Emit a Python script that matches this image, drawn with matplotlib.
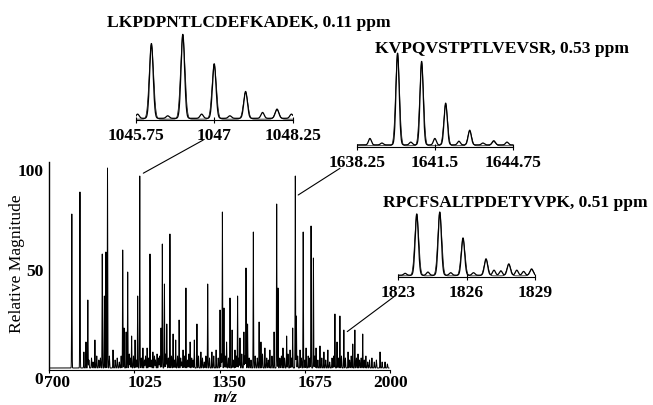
import numpy as np
import matplotlib.pyplot as plt
from matplotlib.transforms import ScaledTranslation

plt.rcParams['font.family'] = ['Liberation Serif', 'DejaVu Serif']
plt.rcParams['font.weight'] = 'bold'
plt.rcParams['font.size'] = 12.6

# full scan: main peaks (m/z) and relative magnitude
scan_mz = [787, 818, 833, 841, 848, 875, 903, 911, 917, 923,
           944, 981, 986, 994, 1000, 1015, 1028, 1038, 1046, 1058,
           1074, 1085, 1096, 1112, 1127, 1132, 1140, 1149, 1161, 1173,
           1183, 1196, 1211, 1222, 1238, 1254, 1264, 1279, 1305, 1321,
           1337, 1352, 1361, 1367, 1377, 1390, 1398, 1409, 1419, 1428,
           1443, 1451, 1457, 1479, 1501, 1508, 1523, 1542, 1558, 1568,
           1573, 1592, 1606, 1619, 1629, 1639, 1643, 1657, 1669, 1680,
           1699, 1708, 1718, 1733, 1748, 1763, 1790, 1798, 1809, 1824,
           1840, 1858, 1866, 1878, 1896, 1908, 1931, 1962, 1981]
scan_int = [77, 88, 8, 13, 34, 14, 57, 36, 58, 100,
            9, 59, 20, 18, 48, 16, 14, 36, 96, 10,
            10, 57, 8, 7, 20, 62, 42, 22, 67, 17,
            14, 24, 9, 40, 13, 14, 22, 8, 42, 8,
            9, 29, 78, 30, 13, 35, 19, 9, 36, 15,
            18, 50, 22, 68, 23, 13, 10, 9, 18, 82,
            40, 10, 16, 9, 20, 96, 26, 9, 68, 10,
            71, 55, 10, 11, 8, 9, 27, 13, 26, 19,
            8, 12, 19, 7, 17, 6, 5, 8, 3]

# low level chemical noise between the peaks
grass_mz = [852, 862, 868, 882, 890, 896, 930, 952, 960, 968,
            975, 1006, 1010, 1022, 1033, 1052, 1064, 1068, 1080, 1090,
            1102, 1106, 1118, 1122, 1145, 1155, 1167, 1178, 1190, 1202,
            1206, 1216, 1228, 1233, 1244, 1249, 1270, 1285, 1292, 1298,
            1312, 1328, 1345, 1357, 1372, 1384, 1403, 1414, 1424, 1435,
            1447, 1463, 1470, 1486, 1494, 1514, 1530, 1536, 1550, 1580,
            1586, 1598, 1611, 1624, 1648, 1662, 1675, 1688, 1694, 1713,
            1725, 1740, 1755, 1770, 1779, 1785, 1803, 1815, 1830, 1846,
            1852, 1872, 1884, 1890, 1902, 1915, 1922, 1940, 1948, 1970, 1990]
grass_int = [4, 5, 3, 6, 4, 5, 6, 4, 5, 3,
             6, 7, 5, 6, 4, 5, 4, 6, 5, 4,
             6, 4, 5, 6, 7, 5, 6, 4, 6, 5,
             3, 6, 4, 7, 5, 4, 6, 5, 3, 6,
             5, 6, 5, 7, 6, 5, 4, 6, 5, 7,
             6, 5, 4, 6, 5, 7, 5, 4, 6, 5,
             6, 5, 7, 5, 6, 5, 4, 6, 5, 6,
             4, 5, 4, 3, 5, 6, 5, 6, 5, 4,
             6, 5, 4, 5, 4, 3, 4, 3, 4, 3, 2]
scan_base = 1.0

# isotope clusters shown enlarged
pep1_name = 'LKPDPNTLCDEFKADEK, 0.11 ppm'
pep1_mz = [1046.0, 1046.5, 1047.0, 1047.5, 1048.0]
pep1_int = [0.89, 1.0, 0.65, 0.32, 0.11]
pep1_noise_mz = [1045.78, 1046.26, 1046.8, 1047.25, 1047.77, 1048.23]
pep1_noise_int = [0.05, 0.03, 0.05, 0.03, 0.07, 0.05]
pep1_ticks = [1045.75, 1047, 1048.25]

pep2_name = 'KVPQVSTPTLVEVSR, 0.53 ppm'
pep2_mz = [1639.95, 1640.95, 1641.95, 1642.95, 1643.95]
pep2_int = [1.0, 0.91, 0.455, 0.16, 0.045]
pep2_noise_mz = [1638.8, 1639.3, 1640.5, 1641.5, 1642.5, 1643.5, 1644.5]
pep2_noise_int = [0.07, 0.02, 0.03, 0.07, 0.04, 0.02, 0.03]
pep2_ticks = [1638.25, 1641.5, 1644.75]

pep3_name = 'RPCFSALTPDETYVPK, 0.51 ppm'
pep3_mz = [1823.81, 1824.82, 1825.84, 1826.85, 1827.85, 1828.85]
pep3_int = [0.97, 1.0, 0.59, 0.26, 0.18, 0.10]
pep3_noise_mz = [1823.3, 1824.3, 1825.3, 1826.3, 1827.2, 1827.5, 1828.2, 1828.5]
pep3_noise_int = [0.03, 0.05, 0.04, 0.04, 0.08, 0.07, 0.08, 0.06]
pep3_ticks = [1823, 1826, 1829]


def profile(x, centres, heights, sigma):
    y = np.zeros_like(x)
    for c, h in zip(centres, heights):
        y += h * np.exp(-0.5 * ((x - c) / sigma) ** 2)
    return y


W, H = 653, 405
fig = plt.figure(figsize=(W / 100, H / 100), dpi=100)


def frac(x0, y_top, x1, y_bot):
    return [x0 / W, 1 - y_bot / H, (x1 - x0) / W, (y_bot - y_top) / H]


# main spectrum
ax = fig.add_axes(frac(49, 162, 390, 370))
x = np.arange(700, 1996, 0.2)
y = scan_base + profile(x, scan_mz, scan_int, 0.8) + profile(x, grass_mz, grass_int, 1.0)
ax.plot(x, y, color='black', lw=0.7)
ax.set_xlim(700, 2000)
ax.set_ylim(0, 104)
ax.set_xticks([700, 1025, 1350, 1675, 2000])
ax.set_yticks([0, 50, 100])
ax.tick_params(axis='x', direction='out', length=2.5, width=0.8, pad=1)
ax.tick_params(axis='y', length=0, pad=4)
for s in ['top', 'right']:
    ax.spines[s].set_visible(False)
ax.spines['left'].set_linewidth(1.0)
ax.spines['bottom'].set_linewidth(0.8)

# tick labels sit a little right of their ticks in the original layout
for lbl, dx in zip(ax.get_xticklabels(), [8, 11, 10, 10, 1]):
    lbl.set_transform(lbl.get_transform() + ScaledTranslation(dx / 100, 0, fig.dpi_scale_trans))
ylbl0 = ax.get_yticklabels()[0]
ylbl0.set_transform(ylbl0.get_transform() + ScaledTranslation(0, -8 / 100, fig.dpi_scale_trans))

# axis titles
fig.text(226 / W, 1 - 402.5 / H, 'm/z', style='italic', ha='center', va='baseline',
         fontsize=12)
ax.set_ylabel('Relative Magnitude')
ax.yaxis.set_label_coords(-0.07, 0.51)


def inset(rect, mz, inten, noise_mz, noise_int, ticks, sigma, xlim):
    a = fig.add_axes(rect)
    xx = np.linspace(xlim[0], xlim[1], 1500)
    meas = 0.02 + profile(xx, mz, inten, sigma) + profile(xx, noise_mz, noise_int, sigma * 0.9)
    theo = 0.01 + profile(xx, mz, inten, sigma * 1.25)
    a.plot(xx, theo, color='black', lw=0.5)
    a.plot(xx, meas, color='black', lw=0.9)
    a.set_xlim(*xlim)
    a.set_ylim(0, 1.05)
    a.set_xticks(ticks)
    a.set_xticklabels([('%g' % t) for t in ticks])
    a.set_yticks([])
    for s in ['top', 'right', 'left']:
        a.spines[s].set_visible(False)
    a.spines['bottom'].set_linewidth(0.8)
    a.tick_params(axis='x', direction='inout', length=4, width=0.8, pad=4)
    a.patch.set_alpha(0)
    return a


inset(frac(135.7, 31.8, 292.7, 120), pep1_mz, pep1_int, pep1_noise_mz, pep1_noise_int,
      pep1_ticks, 0.028, (1045.75, 1048.25))
inset(frac(356.7, 50.4, 513, 146.7), pep2_mz, pep2_int, pep2_noise_mz, pep2_noise_int,
      pep2_ticks, 0.065, (1638.25, 1644.75))
inset(frac(398.3, 210.1, 535, 276.5), pep3_mz, pep3_int, pep3_noise_mz, pep3_noise_int,
      pep3_ticks, 0.07, (1823, 1829))

# peptide labels
fig.text(106.7 / W, 1 - 26.7 / H, pep1_name, ha='left', va='baseline')
fig.text(375 / W, 1 - 53.3 / H, pep2_name, ha='left', va='baseline')
fig.text(383.3 / W, 1 - 206.7 / H, pep3_name, ha='left', va='baseline')

# lines from the selected peaks to their enlarged views
for start, end in [((1059.5, 98.4), (203.3, 140)),
                   ((1650, 87.5), (340, 168.3)),
                   ((1837, 19.2), (394, 296.7))]:
    ax.annotate('', xy=start, xycoords='data',
                xytext=(end[0] / W, 1 - end[1] / H), textcoords='figure fraction',
                arrowprops=dict(arrowstyle='-', lw=0.8, color='black',
                                shrinkA=0, shrinkB=0),
                annotation_clip=False)

fig.savefig('out.png', dpi=100)
